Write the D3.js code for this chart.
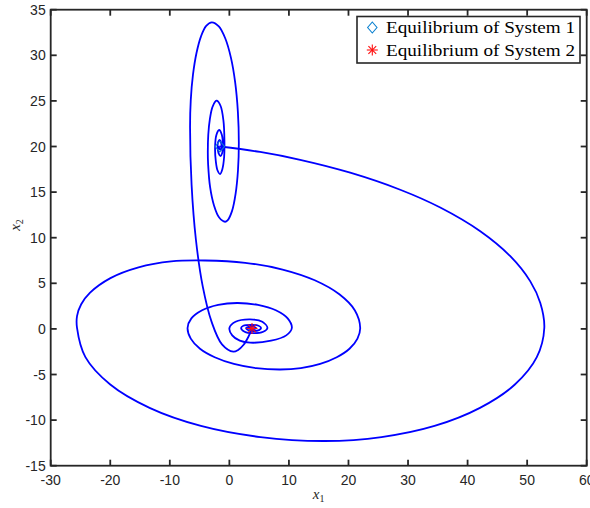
<!DOCTYPE html>
<html>
<head>
<meta charset="utf-8">
<script src="https://cdn.jsdelivr.net/npm/d3@7"></script>
<style>
  html, body { margin: 0; padding: 0; background: #fff; }
</style>
</head>
<body>
<div id="chart"></div>
<script>
// equilibria
const eq1 = [-1.6, 20];
const eq2 = [3.8, 0.05];

// trajectory spiralling into equilibrium 1 (starts at equilibrium 2)
const path1X = [3.8, 3.2, 2.36, 1.47, 0.68, -1.24, -2.98, -4.48, -5.62, -6.34, -6.6, -6.48, -6.11, -5.52, -4.76, -3.89, -2.95, -1.77, -0.68, 0.26, 0.98, 1.43, 1.59, 1.45, 1.05, 0.44, -0.31, -0.72, -1.71, -2.58, -3.24, -3.57, -3.62, -3.54, -3.27, -2.87, -2.38, -2.11, -1.47, -1.0, -0.83, -0.88, -1.19, -1.56, -1.98, -2.28, -2.4, -2.19, -1.72, -1.27, -1.09, -1.2, -1.47, -1.82, -1.98, -1.86, -1.59, -1.3, -1.52, -1.76, -1.6];
const path1Y = [0.05, -0.86, -1.77, -2.31, -2.5, -1.69, 0.77, 4.69, 9.8, 15.76, 22.14, 25.11, 27.87, 30.25, 32.08, 33.22, 33.62, 33.17, 31.84, 29.74, 27.0, 23.8, 20.38, 17.43, 14.84, 12.91, 11.89, 11.75, 12.21, 13.54, 15.57, 18.07, 19.4, 21.32, 23.02, 24.27, 24.93, 25.02, 24.44, 22.86, 20.71, 18.85, 17.49, 16.98, 17.37, 18.41, 19.84, 21.23, 21.81, 21.29, 20.06, 19.28, 18.96, 19.28, 20.06, 20.52, 20.71, 20.0, 19.62, 19.95, 20];

// trajectory spiralling into equilibrium 2 (starts at equilibrium 1)
const path2X = [-1.6, 5.16, 11.89, 20.29, 28.69, 35.41, 42.13, 47.17, 50.53, 52.21, 52.88, 51.62, 47.94, 42.08, 34.45, 25.54, 16.0, 5.23, -4.78, -13.4, -20.0, -24.17, -25.58, -25.58, -24.88, -23.43, -19.97, -15.25, -9.77, -4.08, 2.66, 8.94, 14.34, 18.47, 21.08, 21.97, 21.51, 20.17, 18.03, 15.25, 12.0, 8.53, 4.51, 0.76, -2.46, -4.93, -6.48, -7.02, -6.38, -4.58, -1.88, 1.3, 4.81, 7.8, 9.79, 10.49, 9.55, 7.0, 3.48, 1.75, 0.48, 0.01, 1.03, 3.48, 5.53, 6.39, 5.69, 3.99, 2.56, 1.97, 2.34, 3.82, 4.9, 5.33, 4.98, 3.9, 3.13, 2.81, 3.82, 4.49, 3.82, 3.32, 3.8];
const path2Y = [20, 19.4, 18.54, 17.13, 15.26, 13.31, 10.71, 7.97, 5.21, 2.84, 0.1, -3.1, -6.1, -8.66, -10.64, -11.86, -12.29, -11.86, -10.64, -8.66, -6.1, -3.1, 0.1, 1.4, 2.7, 3.95, 5.57, 6.75, 7.4, 7.5, 7.25, 6.51, 5.33, 3.79, 2.02, 0.1, -1.07, -2.18, -3.11, -3.84, -4.3, -4.45, -4.3, -3.84, -3.11, -2.18, -1.07, 0.1, 1.15, 2.04, 2.63, 2.84, 2.63, 2.04, 1.15, 0.1, -0.71, -1.29, -1.51, -1.29, -0.71, 0.1, 0.78, 1.05, 0.78, 0.1, -0.31, -0.47, -0.31, 0.1, 0.35, 0.45, 0.35, 0.1, -0.13, -0.23, -0.13, 0.1, 0.29, 0.1, -0.07, 0.1, 0.05];

const xTicks = [-30, -20, -10, 0, 10, 20, 30, 40, 50, 60];
const yTicks = [-15, -10, -5, 0, 5, 10, 15, 20, 25, 30, 35];
const legendLabels = ["Equilibrium of System 1", "Equilibrium of System 2"];

const width = 590, height = 508;
const margin = { top: 9.7, right: 3.3, bottom: 42.3, left: 50.7 };
const axisColor = "#262626";
const lineColor = "#0000ff";
const diamondColor = "#0a80d0";
const starColor = "#ff1010";

const svg = d3.select("#chart").append("svg")
    .attr("width", width)
    .attr("height", height);

const x = d3.scaleLinear().domain([-30, 60]).range([margin.left, width - margin.right]);
const y = d3.scaleLinear().domain([-15, 35]).range([height - margin.bottom, margin.top]);

const line = d3.line()
    .x(d => x(d[0]))
    .y(d => y(d[1]))
    .curve(d3.curveCatmullRom.alpha(0.5));

[[path1X, path1Y], [path2X, path2Y]].forEach(([xs, ys]) => {
    const pts = xs.map((v, i) => [v, ys[i]]);
    svg.append("path")
        .attr("d", line(pts))
        .attr("fill", "none")
        .attr("stroke", lineColor)
        .attr("stroke-width", 1.8)
        .attr("stroke-linejoin", "round");
});

// markers
const diamond = (g, cx, cy, r) => g.append("path")
    .attr("d", `M${cx},${cy - r}L${cx + r * 0.85},${cy}L${cx},${cy + r}L${cx - r * 0.85},${cy}Z`)
    .attr("fill", "none")
    .attr("stroke", diamondColor)
    .attr("stroke-width", 1.1);

const asterisk = (g, cx, cy, r) => {
    const d = r * 0.7071;
    const segs = [[-r, 0, r, 0], [0, -r, 0, r], [-d, -d, d, d], [-d, d, d, -d]];
    segs.forEach(s => g.append("line")
        .attr("x1", cx + s[0]).attr("y1", cy + s[1])
        .attr("x2", cx + s[2]).attr("y2", cy + s[3])
        .attr("stroke", starColor)
        .attr("stroke-width", 1.1));
};

diamond(svg, x(eq1[0]), y(eq1[1]), 5.5);
asterisk(svg, x(eq2[0]), y(eq2[1]), 5.5);

// axes box and ticks
const plotL = x.range()[0], plotR = x.range()[1];
const plotT = y.range()[1], plotB = y.range()[0];
const tickLen = 6;
const axes = svg.append("g").attr("stroke", axisColor).attr("stroke-width", 1.8);

xTicks.forEach(t => {
    axes.append("line").attr("x1", x(t)).attr("x2", x(t)).attr("y1", plotB).attr("y2", plotB - tickLen);
    axes.append("line").attr("x1", x(t)).attr("x2", x(t)).attr("y1", plotT).attr("y2", plotT + tickLen);
});
yTicks.forEach(t => {
    axes.append("line").attr("y1", y(t)).attr("y2", y(t)).attr("x1", plotL).attr("x2", plotL + tickLen);
    axes.append("line").attr("y1", y(t)).attr("y2", y(t)).attr("x1", plotR).attr("x2", plotR - tickLen);
});
axes.append("rect")
    .attr("x", plotL).attr("y", plotT)
    .attr("width", plotR - plotL).attr("height", plotB - plotT)
    .attr("fill", "none");

const tickFont = "'Liberation Sans', Arial, sans-serif";
svg.append("g").selectAll("text").data(xTicks).join("text")
    .attr("x", d => x(d))
    .attr("y", plotB + 19)
    .attr("text-anchor", "middle")
    .attr("font-family", tickFont)
    .attr("font-size", 14)
    .attr("fill", axisColor)
    .text(d => d);

svg.append("g").selectAll("text").data(yTicks).join("text")
    .attr("x", plotL - 5)
    .attr("y", d => y(d) + 5)
    .attr("text-anchor", "end")
    .attr("font-family", tickFont)
    .attr("font-size", 14)
    .attr("fill", axisColor)
    .text(d => d);

// axis labels
const serif = "'Liberation Serif', 'DejaVu Serif', serif";
const xl = svg.append("text")
    .attr("x", (plotL + plotR) / 2)
    .attr("y", 499)
    .attr("text-anchor", "middle")
    .attr("font-family", serif)
    .attr("font-size", 15)
    .attr("fill", axisColor);
xl.append("tspan").attr("font-style", "italic").text("x");
xl.append("tspan").attr("font-size", 10).attr("dy", 3).text("1");

const yl = svg.append("text")
    .attr("transform", `translate(20,225) rotate(-90)`)
    .attr("text-anchor", "middle")
    .attr("font-family", serif)
    .attr("font-size", 15)
    .attr("fill", axisColor);
yl.append("tspan").attr("font-style", "italic").text("x");
yl.append("tspan").attr("font-size", 10).attr("dy", 3).text("2");

// legend
const legend = svg.append("g");
legend.append("rect")
    .attr("x", 357).attr("y", 16.5)
    .attr("width", 223).attr("height", 46.5)
    .attr("fill", "#fff")
    .attr("stroke", axisColor)
    .attr("stroke-width", 1.6);

const rowY = [27.5, 50];
diamond(legend, 372.3, rowY[0], 5.5);
asterisk(legend, 372.3, rowY[1], 5.5);

legend.selectAll("text.lab").data(legendLabels).join("text")
    .attr("class", "lab")
    .attr("x", 386)
    .attr("y", (d, i) => rowY[i] + 5.5)
    .attr("font-family", serif)
    .attr("font-size", 17)
    .attr("fill", "#000")
    .attr("textLength", 189)
    .attr("lengthAdjust", "spacingAndGlyphs")
    .text(d => d);
</script>
</body>
</html>
